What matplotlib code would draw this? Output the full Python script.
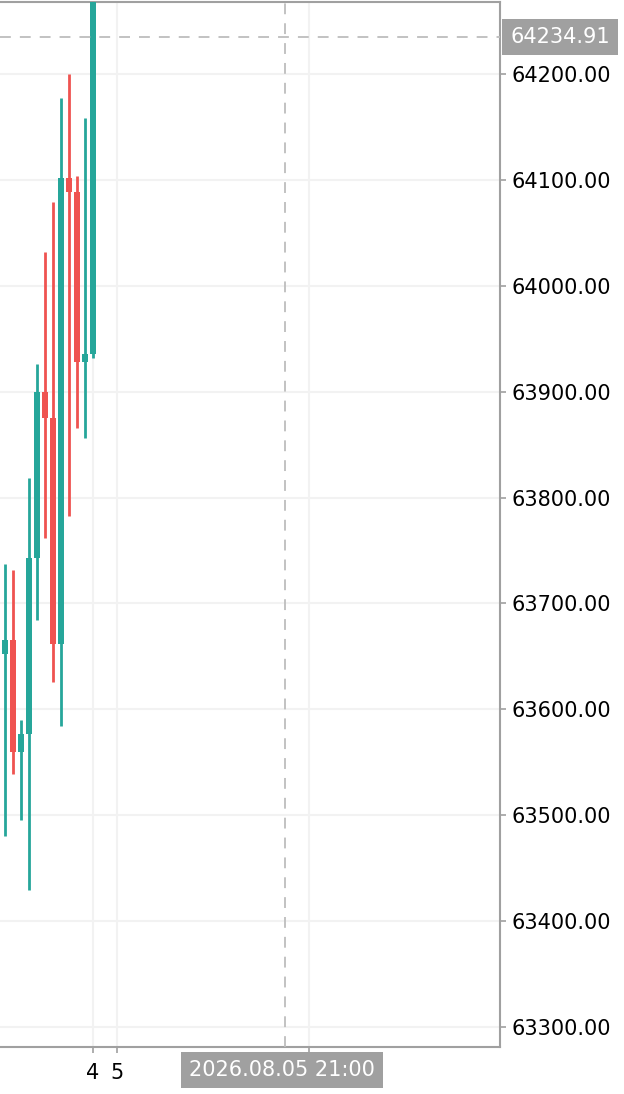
import matplotlib
matplotlib.use("Agg")
import matplotlib.pyplot as plt
import matplotlib.transforms as mtransforms
from matplotlib import font_manager

# candle data (hourly bars)
opens = [63652.3, 63665.5, 63559.7, 63576.7, 63742.9, 63899.7, 63875.1, 63661.7, 64101.8, 64088.6, 63928.0, 63935.6]
highs = [63737.3, 63731.6, 63589.9, 63818.5, 63926.1, 64031.9, 64079.1, 64177.3, 64200.0, 64103.7, 64158.4, 64320.0]
lows = [63480.4, 63538.9, 63495.5, 63429.4, 63684.4, 63761.8, 63625.8, 63584.3, 63782.6, 63865.7, 63856.2, 63931.8]
closes = [63665.5, 63559.7, 63576.7, 63742.9, 63899.7, 63875.1, 63661.7, 64101.8, 64088.6, 63928.0, 63935.6, 64320.0]

y_ticks = [63300, 63400, 63500, 63600, 63700, 63800, 63900, 64000, 64100, 64200]
x_ticks = [11, 14, 38]
x_labels = ["4", "5", ""]

last_price = 64234.91
cursor_x = 35
cursor_label = "2026.08.05 21:00"

up_col = "#26a69a"
down_col = "#ef5350"
grid_col = "#f2f2f2"
spine_col = "#a0a0a0"

# narrow font if we have one
names = set(f.name for f in font_manager.fontManager.ttflist)
font = "DejaVu Sans"
for cand in ["DejaVu Sans Condensed", "Liberation Sans Narrow"]:
    if cand in names:
        font = cand
        break
plt.rcParams["font.family"] = font
fsize = 16.5 if font != "DejaVu Sans" else 15

fig = plt.figure(figsize=(6.24, 10.94), dpi=100)
ax = fig.add_axes([0.0, 1 - 1047 / 1094, 500 / 624, 1045 / 1094])

# grid first so candles sit on top
ax.set_axisbelow(True)
ax.grid(True, color=grid_col, linewidth=1.5)

for i in range(len(opens)):
    o, h, l, c = opens[i], highs[i], lows[i], closes[i]
    col = up_col if c >= o else down_col
    ax.vlines(i, l, h, color=col, linewidth=2, zorder=3)
    ax.bar(i, abs(c - o), bottom=min(o, c), width=0.75, color=col, linewidth=0, zorder=4)

# crosshair lines
ax.axhline(last_price, color="#bdbdbd", linewidth=1.3, dashes=(6, 5), zorder=5)
ax.axvline(cursor_x, color="#bdbdbd", linewidth=1.3, dashes=(6, 5), zorder=5)

ax.set_xlim(-0.625, 61.875)
ax.set_ylim(63281.1, 64268.0)

ax.set_yticks(y_ticks)
ax.set_yticklabels([f"{v:.2f}" for v in y_ticks])
ax.yaxis.tick_right()
ax.set_xticks(x_ticks)
ax.set_xticklabels(x_labels)
ax.tick_params(axis="both", colors=spine_col, labelcolor="black", labelsize=fsize, length=4.5, width=1.2)
ax.tick_params(axis="y", pad=4)
ax.tick_params(axis="x", pad=7)

for s in ["top", "right", "bottom"]:
    ax.spines[s].set_color(spine_col)
    ax.spines[s].set_linewidth(1.5)
ax.spines["left"].set_visible(False)

# price label on the right axis
trans_y = mtransforms.blended_transform_factory(ax.transAxes, ax.transData)
ax.text(1.02, last_price, f"{last_price:.2f}", transform=trans_y, ha="left", va="center",
        fontsize=fsize, color="white", zorder=6, clip_on=False,
        bbox=dict(boxstyle="square,pad=0.4", facecolor="#a0a0a0", edgecolor="none"))

# time label under the cursor
trans_x = mtransforms.blended_transform_factory(ax.transData, ax.transAxes)
ax.text(cursor_x - 0.4, -0.022, cursor_label, transform=trans_x, ha="center", va="center",
        fontsize=fsize, color="white", zorder=6, clip_on=False,
        bbox=dict(boxstyle="square,pad=0.38", facecolor="#a0a0a0", edgecolor="none"))

fig.savefig("out.png", dpi=100)
